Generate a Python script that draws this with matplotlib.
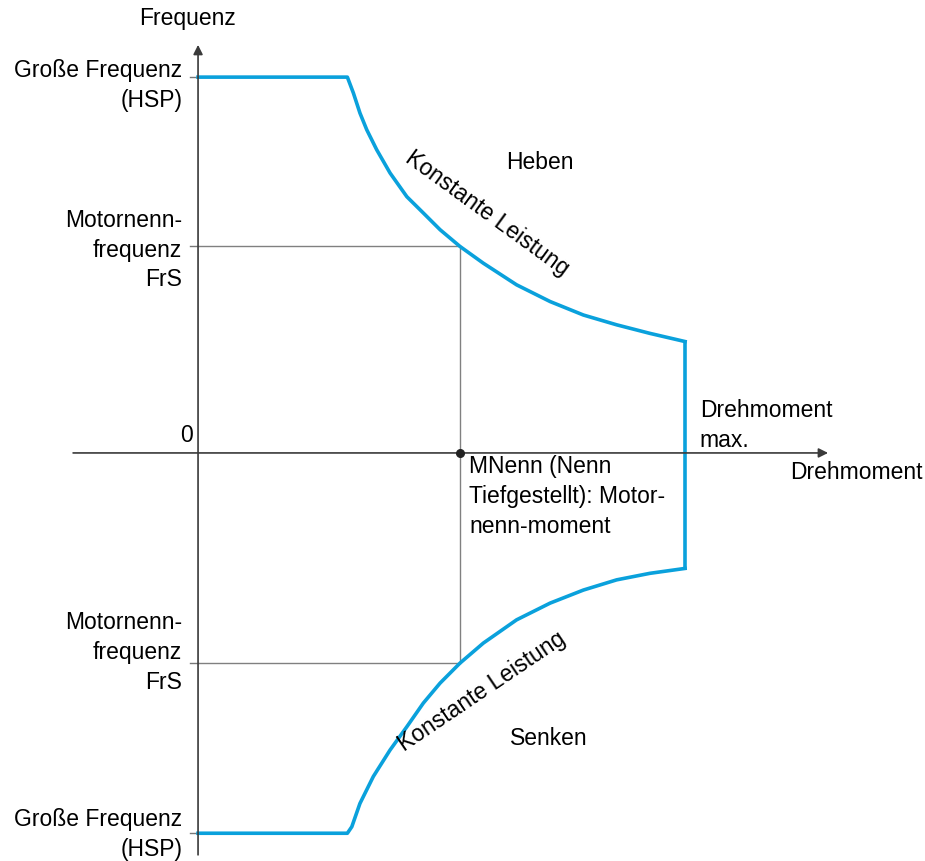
import numpy as np
import matplotlib.pyplot as plt

plt.rcParams['font.family'] = ['Liberation Sans', 'DejaVu Sans']

# Operating envelope (torque in % of MNenn, frequency in Hz, FrS = 50 Hz)
hsp_up = 92.1
hsp_down = -93.2
frs_up = 50.6
frs_down = -51.5
t_nom = 100
t_max = 185.9

# Heben (upper curve)
up_torque = [0, 57.0, 59.3, 61.8, 64.4, 68.2, 73.3, 79.7, 86.0, 92.4, 100,
             108.9, 121.6, 134.4, 147.1, 159.8, 172.5, 185.9]
up_freq = [92.1, 92.1, 88.2, 83.3, 79.2, 74.3, 68.6, 62.8, 58.8, 54.7, 50.6,
           46.5, 41.2, 37.1, 33.8, 31.4, 29.3, 27.3]

# Senken (lower curve)
low_torque = [185.9, 172.5, 159.8, 147.1, 134.4, 121.6, 108.9, 100, 92.4,
              86.0, 79.7, 73.3, 66.9, 61.8, 58.7, 57.0, 0]
low_freq = [-28.3, -29.5, -31.1, -33.6, -36.8, -40.9, -46.6, -51.5, -56.4,
            -61.3, -67.1, -72.8, -79.3, -85.9, -91.6, -93.2, -93.2]

blue = '#0AA1DC'
axis_col = '#3a3a3a'
fs = 16.5
ls = 1.38

fig = plt.figure(figsize=(9.25, 8.61), dpi=100)
ax = fig.add_axes([0, 0, 1, 1])
ax.set_xlim(-75.6, 277.5)
ax.set_ylim(-100.0, 111.0)
ax.axis('off')

# axes with arrows
ax.annotate('', xy=(240.5, 0), xytext=(-47.7, 0),
            arrowprops=dict(arrowstyle='-|>', color=axis_col, lw=1.2,
                            mutation_scale=14, shrinkA=0, shrinkB=0))
ax.annotate('', xy=(0, 100), xytext=(0, -98.5),
            arrowprops=dict(arrowstyle='-|>', color=axis_col, lw=1.2,
                            mutation_scale=14, shrinkA=0, shrinkB=0))

# small ticks on frequency axis
for f in [hsp_up, frs_up, frs_down, hsp_down]:
    ax.plot([-3, 0], [f, f], color='#777777', lw=1)

# nominal reference lines
ax.plot([0, t_nom], [frs_up, frs_up], color='#808080', lw=1)
ax.plot([0, t_nom], [frs_down, frs_down], color='#808080', lw=1)
ax.plot([t_nom, t_nom], [frs_up, frs_down], color='#808080', lw=1)
ax.plot([t_nom], [0], 'o', color='#222222', ms=5.5, zorder=5)

# envelope
ax.plot(up_torque, up_freq, color=blue, lw=2.6, solid_joinstyle='round')
ax.plot([t_max, t_max], [up_freq[-1], low_freq[0]], color=blue, lw=2.6)
ax.plot(low_torque, low_freq, color=blue, lw=2.6, solid_joinstyle='round')

# labels
ax.text(-4.2, 106.5, 'Frequenz', fontsize=fs, ha='center', va='center')
ax.text(-6, 90.0, 'Große Frequenz\n(HSP)', fontsize=fs, ha='right',
        va='center', linespacing=ls)
ax.text(-6, 49.7, 'Motornenn-\nfrequenz\nFrS', fontsize=fs, ha='right',
        va='center', linespacing=ls)
ax.text(-6, -48.9, 'Motornenn-\nfrequenz\nFrS', fontsize=fs, ha='right',
        va='center', linespacing=ls)
ax.text(-6, -93.6, 'Große Frequenz\n(HSP)', fontsize=fs, ha='right',
        va='center', linespacing=ls)
ax.text(-4.5, 4.3, '0', fontsize=fs, ha='center', va='center')
ax.text(130.5, 71.1, 'Heben', fontsize=fs, ha='center', va='center')
ax.text(134, -69.9, 'Senken', fontsize=fs, ha='center', va='center')
ax.text(110.3, 58.8, 'Konstante Leistung', fontsize=fs, ha='center',
        va='center', rotation=-36, rotation_mode='anchor')
ax.text(108.4, -58.6, 'Konstante Leistung', fontsize=fs, ha='center',
        va='center', rotation=34, rotation_mode='anchor')
ax.text(191.5, 6.7, 'Drehmoment\nmax.', fontsize=fs, ha='left',
        va='center', linespacing=ls)
ax.text(226, -4.7, 'Drehmoment', fontsize=fs, ha='left', va='center')
ax.text(103.5, -10.6, 'MNenn (Nenn\nTiefgestellt): Motor-\nnenn-moment',
        fontsize=fs, ha='left', va='center', linespacing=ls)

fig.savefig('out.png', dpi=100)
